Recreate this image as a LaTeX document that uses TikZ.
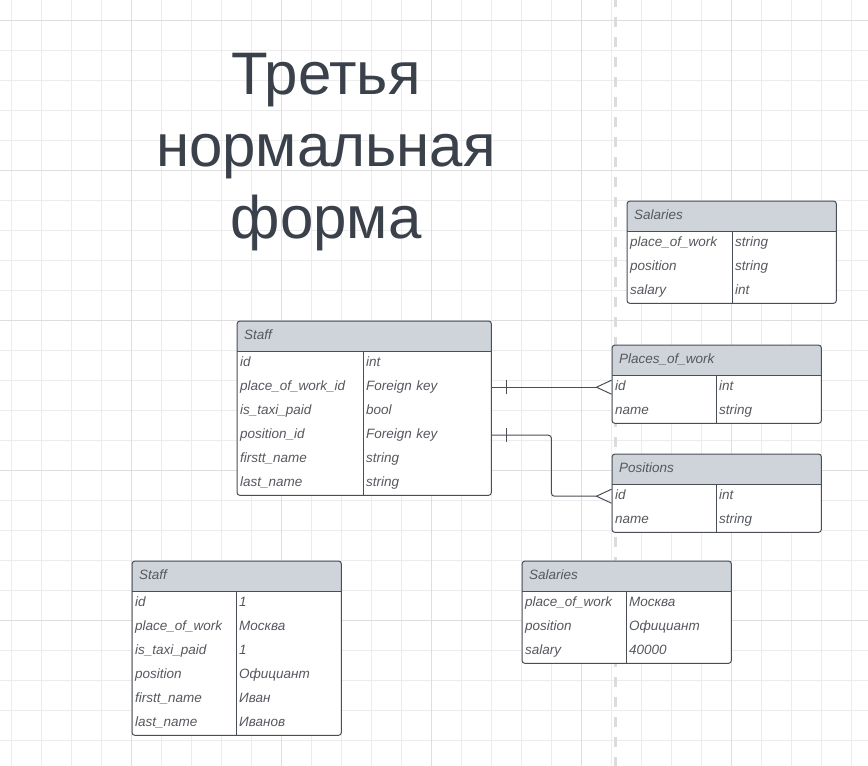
\documentclass[tikz,border=0pt]{standalone}
\usepackage{fontspec}
\setmainfont{Liberation Sans}
\usetikzlibrary{positioning,arrows.meta,backgrounds}
\definecolor{gridgray}{RGB}{236,236,236}
\definecolor{gridmajor}{RGB}{222,222,222}
\definecolor{dashgray}{RGB}{220,220,220}
\definecolor{headgray}{RGB}{207,212,219}
\definecolor{linegray}{RGB}{74,79,87}
\definecolor{textgray}{RGB}{85,88,94}
\definecolor{titlegray}{RGB}{58,65,74}

\begin{document}
\begin{tikzpicture}[x=1pt, y=-1pt, every node/.style={font=\fontsize{13.5}{16}\selectfont\itshape, text=textgray}]
    \tikzstyle{head}=[anchor=north west, minimum height=30pt, inner xsep=7pt, inner ysep=0pt, align=left, text height=10pt, text depth=3pt]
    \tikzstyle{cell}=[anchor=north west, minimum height=24pt, inner xsep=3pt, inner ysep=0pt, align=left, text height=10pt, text depth=3pt]
    \tikzstyle{frame}=[draw=linegray, line width=1pt]
    \tikzstyle{rel}=[draw=linegray, line width=1pt]
    \tikzstyle{crow}=[-{Straight Barb[reversed, length=15pt, width=14pt]}]
    \useasboundingbox (0,0) rectangle (868,766);

    % background grid
    \begin{scope}[on background layer]
      \fill[white] (0,0) rectangle (868,766);
      \foreach \i in {0,...,28} \draw[gridgray, line width=1pt] (11.7+30*\i,0) -- (11.7+30*\i,766);
      \foreach \i in {0,...,24} \draw[gridgray, line width=1pt] (0,20+30*\i) -- (868,20+30*\i);
      \foreach \i in {0,...,4} \draw[gridmajor, line width=1pt] (131.7+150*\i,0) -- (131.7+150*\i,766);
      \foreach \i in {0,...,4} \draw[gridmajor, line width=1pt] (0,20+150*\i) -- (868,20+150*\i);
      \draw[dashgray, line width=3pt, dash pattern=on 10pt off 10pt, dash phase=3.3pt] (615.7,0) -- (615.7,766);
    \end{scope}

    \node[font=\fontsize{60}{72}\selectfont, text=titlegray, align=center] (title) at (326,152) {Третья\\нормальная\\форма};

    % Staff (schema)
    \node[head, text width=240pt] (staff) at (237,321) {Staff};
    \foreach \f/\t [count=\i] in {id/int, place\_of\_work\_id/Foreign key, is\_taxi\_paid/bool, position\_id/Foreign key, firstt\_name/string, last\_name/string}
      {\node[cell, text width=120pt] (staff-f\i) at (237,327+24*\i) {\f};
       \node[cell, text width=122pt] (staff-t\i) at (363,327+24*\i) {\t};}

    % Salaries (schema)
    \node[head, text width=195pt] (sal) at (627,201) {Salaries};
    \foreach \f/\t [count=\i] in {place\_of\_work/string, position/string, salary/int}
      {\node[cell, text width=99pt] (sal-f\i) at (627,207+24*\i) {\f};
       \node[cell, text width=98pt] (sal-t\i) at (732,207+24*\i) {\t};}

    % Places_of_work
    \node[head, text width=195pt] (pw) at (612,345) {Places\_of\_work};
    \foreach \f/\t [count=\i] in {id/int, name/string}
      {\node[cell, text width=98pt] (pw-f\i) at (612,351+24*\i) {\f};
       \node[cell, text width=99pt] (pw-t\i) at (716,351+24*\i) {\t};}

    % Positions
    \node[head, text width=195pt] (pos) at (612,454) {Positions};
    \foreach \f/\t [count=\i] in {id/int, name/string}
      {\node[cell, text width=98pt] (pos-f\i) at (612,460+24*\i) {\f};
       \node[cell, text width=99pt] (pos-t\i) at (716,460+24*\i) {\t};}

    % Staff (row)
    \node[head, text width=195pt] (row) at (132,561) {Staff};
    \foreach \f/\t [count=\i] in {id/1, place\_of\_work/Москва, is\_taxi\_paid/1, position/Официант, firstt\_name/Иван, last\_name/Иванов}
      {\node[cell, text width=98pt] (row-f\i) at (132,567+24*\i) {\f};
       \node[cell, text width=99pt] (row-t\i) at (236,567+24*\i) {\t};}

    % Salaries (row)
    \node[head, text width=195pt] (salrow) at (522,561) {Salaries};
    \foreach \f/\t [count=\i] in {place\_of\_work/Москва, position/Официант, salary/40000}
      {\node[cell, text width=98pt] (salrow-f\i) at (522,567+24*\i) {\f};
       \node[cell, text width=99pt] (salrow-t\i) at (626,567+24*\i) {\t};}

    % header fills and frames
    \foreach \h/\n in {staff/6, sal/3, pw/2, pos/2, row/6, salrow/3}
      {\begin{scope}[on background layer]
         \fill[headgray, rounded corners=3pt] (\h.north west) rectangle ([yshift=-6pt]\h.south east);
         \fill[white] (\h.south west) rectangle (\h-t\n.south east);
       \end{scope}
       \draw[frame, rounded corners=3pt] (\h.north west) rectangle (\h-t\n.south east);
       \draw[frame] (\h.south west) -- (\h.south east);
       \draw[frame] (\h-t1.north west) -- (\h-t\n.south west);}

    % relations
    \draw[rel, crow] (staff-t2.east) -- (pw-f1.west);
    \draw[rel] ([xshift=15pt]staff-t2.east) +(0,-7) -- +(0,7);
    \draw[rel, crow, rounded corners=3pt] (staff-t4.east) -- ++(60,0) |- (pos-f1.west);
    \draw[rel] ([xshift=15pt]staff-t4.east) +(0,-7) -- +(0,7);
\end{tikzpicture}
\end{document}
